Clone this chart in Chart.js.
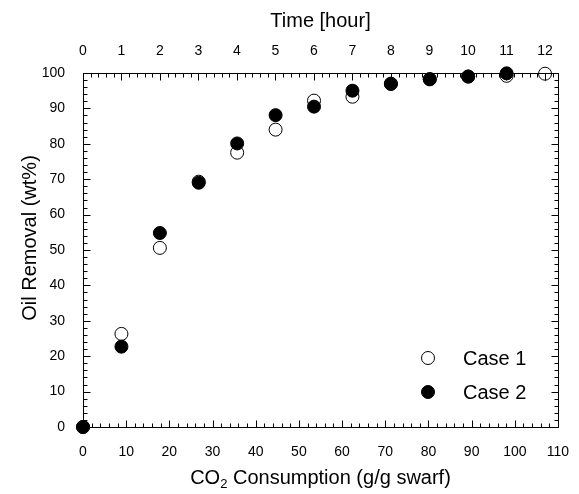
<!DOCTYPE html>
<html>
<head>
<meta charset="utf-8">
<title>Oil Removal vs CO2 Consumption</title>
<script src="https://cdn.jsdelivr.net/npm/chart.js@4.4.1/dist/chart.umd.min.js"></script>
<style>
  html, body { margin: 0; padding: 0; background: #fff; }
  canvas { display: block; }
</style>
</head>
<body>
<canvas id="mychart" width="579" height="494"></canvas>
<script>
// CO2 consumed at each sampling time (g/g swarf), one sample per hour
const co2 = [0, 8.9, 17.8, 26.8, 35.7, 44.6, 53.5, 62.4, 71.3, 80.3, 89.2, 98.1, 107];
// oil removal (wt%)
const case1 = [0, 26.3, 50.6, 69.3, 77.5, 84.0, 92.2, 93.3, 97.0, 98.3, 99.0, 99.2, 99.8];
const case2 = [0, 22.7, 54.8, 69.0, 80.1, 88.1, 90.5, 95.0, 96.9, 98.2, 99.0, 99.9];

const xTicks = [0, 10, 20, 30, 40, 50, 60, 70, 80, 90, 100, 110];
const yTicks = [0, 10, 20, 30, 40, 50, 60, 70, 80, 90, 100];
const hourTicks = [0, 1, 2, 3, 4, 5, 6, 7, 8, 9, 10, 11, 12];
const hourMax = 12.34; // time at the right edge of the CO2 axis

const FONT = '"Liberation Sans", Arial, Helvetica, sans-serif';
Chart.defaults.font.family = FONT;
Chart.defaults.color = '#000';

const toPoints = (xs, ys) => ys.map((y, i) => ({ x: xs[i], y: y }));

// box frame with inward ticks on all four sides, axis titles and legend
const frame = {
    id: 'frame',
    afterDraw(chart) {
        const { ctx, chartArea: a, scales } = chart;
        const L = Math.round(a.left) + 0.5, R = Math.round(a.right) + 0.5;
        const T = Math.round(a.top) + 0.5, B = Math.round(a.bottom) + 0.5;
        ctx.save();
        ctx.strokeStyle = '#000';
        ctx.lineWidth = 1;
        ctx.beginPath();
        ctx.rect(L, T, R - L, B - T);

        for (let v = 0; v <= 110; v += 2) {
            const px = Math.round(scales.x.getPixelForValue(v)) + 0.5;
            const len = v % 10 === 0 ? 7 : 4;
            ctx.moveTo(px, B); ctx.lineTo(px, B - len);
        }
        for (let i = 0; i / 5 <= hourMax; i++) {
            const px = Math.round(scales.x2.getPixelForValue(i / 5)) + 0.5;
            const len = i % 5 === 0 ? 7 : 4;
            ctx.moveTo(px, T); ctx.lineTo(px, T + len);
        }
        for (let v = 0; v <= 100; v += 2) {
            const py = Math.round(scales.y.getPixelForValue(v)) + 0.5;
            const len = v % 10 === 0 ? 7 : 4;
            ctx.moveTo(L, py); ctx.lineTo(L + len, py);
            ctx.moveTo(R, py); ctx.lineTo(R - len, py);
        }
        ctx.stroke();

        // titles
        ctx.fillStyle = '#000';
        ctx.textBaseline = 'middle';
        ctx.textAlign = 'center';
        ctx.font = '20px ' + FONT;
        const cx = (a.left + a.right) / 2;
        ctx.fillText('Time [hour]', cx, 21);

        const main = 'CO', sub = '2', rest = ' Consumption (g/g swarf)';
        const wMain = ctx.measureText(main).width;
        const wRest = ctx.measureText(rest).width;
        ctx.font = '13px ' + FONT;
        const wSub = ctx.measureText(sub).width;
        let x0 = cx - (wMain + wSub + wRest) / 2;
        ctx.textAlign = 'left';
        ctx.font = '20px ' + FONT;
        ctx.fillText(main, x0, 478);
        ctx.font = '13px ' + FONT;
        ctx.fillText(sub, x0 + wMain, 484);
        ctx.font = '20px ' + FONT;
        ctx.fillText(rest, x0 + wMain + wSub, 478);

        ctx.save();
        ctx.translate(30, 238);
        ctx.rotate(-Math.PI / 2);
        ctx.textAlign = 'center';
        ctx.fillText('Oil Removal (wt%)', 0, 0);
        ctx.restore();

        // legend
        const rows = [358, 392];
        chart.data.datasets.forEach((ds, i) => {
            ctx.beginPath();
            ctx.arc(428, rows[i], ds.pointRadius, 0, Math.PI * 2);
            ctx.fillStyle = ds.pointBackgroundColor;
            ctx.fill();
            ctx.lineWidth = ds.pointBorderWidth;
            ctx.strokeStyle = ds.pointBorderColor;
            ctx.stroke();
            ctx.fillStyle = '#000';
            ctx.textAlign = 'left';
            ctx.fillText(ds.label, 463, rows[i] + 1);
        });
        ctx.restore();
    }
};

new Chart(document.getElementById('mychart'), {
    type: 'scatter',
    data: {
        datasets: [{
            label: 'Case 1',
            data: toPoints(co2, case1),
            pointRadius: 6.5,
            pointBackgroundColor: '#fff',
            pointBorderColor: '#000',
            pointBorderWidth: 1,
            order: 1,
            clip: false
        }, {
            label: 'Case 2',
            data: toPoints(co2, case2),
            pointRadius: 6.5,
            pointBackgroundColor: '#000',
            pointBorderColor: '#000',
            pointBorderWidth: 1,
            order: 0,
            clip: false
        }]
    },
    options: {
        responsive: false,
        animation: false,
        layout: { padding: { left: 0, right: 21, top: 0, bottom: 0 } },
        plugins: {
            legend: { display: false },
            tooltip: { enabled: false }
        },
        scales: {
            x: {
                type: 'linear',
                position: 'bottom',
                min: 0,
                max: 110,
                grid: { display: false },
                border: { display: false },
                afterBuildTicks: s => { s.ticks = xTicks.map(v => ({ value: v })); },
                afterFit: s => { s.height = 67; },
                ticks: { font: { size: 14 }, padding: 9, maxRotation: 0 }
            },
            x2: {
                type: 'linear',
                position: 'top',
                min: 0,
                max: hourMax,
                grid: { display: false },
                border: { display: false },
                afterBuildTicks: s => { s.ticks = hourTicks.map(v => ({ value: v })); },
                afterFit: s => { s.height = 73; },
                ticks: { font: { size: 14 }, padding: 5, maxRotation: 0 }
            },
            y: {
                type: 'linear',
                position: 'left',
                min: 0,
                max: 100,
                grid: { display: false },
                border: { display: false },
                afterBuildTicks: s => { s.ticks = yTicks.map(v => ({ value: v })); },
                afterFit: s => { s.width = 83; },
                ticks: { font: { size: 14 }, padding: 10 }
            }
        }
    },
    plugins: [frame]
});
</script>
</body>
</html>
